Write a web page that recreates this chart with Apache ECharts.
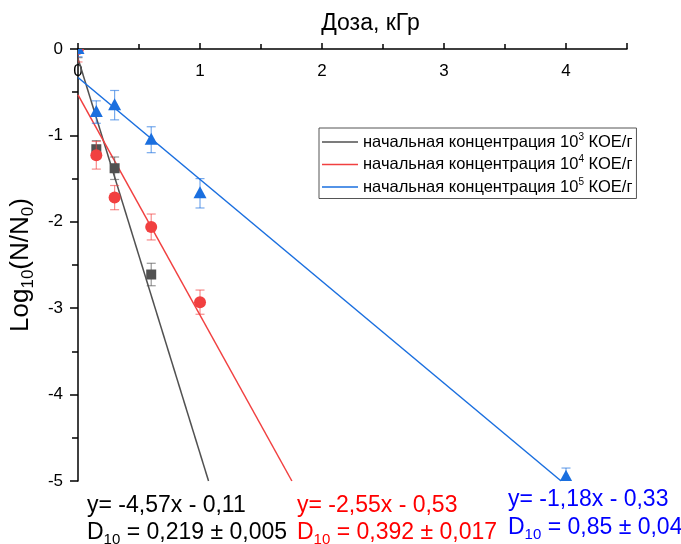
<!DOCTYPE html>
<html><head><meta charset="utf-8">
<script src="https://cdn.jsdelivr.net/npm/echarts@6/dist/echarts.min.js"></script>
<style>html,body{margin:0;padding:0;background:#fff}#c{width:681px;height:544px}</style>
</head><body><div id="c"></div>
<script>
const FONT = 'Liberation Sans, Arial, sans-serif';

// measured points (dose, kGy ; log10(N/N0) ; error)
const xBlack = [0, 0.15, 0.3, 0.6];
const yBlack = [0, -1.16, -1.38, -2.61];
const eBlack = [0.1, 0.1, 0.13, 0.13];

const xRed = [0, 0.15, 0.3, 0.6, 1];
const yRed = [0, -1.23, -1.72, -2.06, -2.93];
const eRed = [0.15, 0.16, 0.14, 0.15, 0.14];

const xBlue = [0, 0.15, 0.3, 0.6, 1, 4];
const yBlue = [0, -0.73, -0.65, -1.05, -1.67, -4.95];
const eBlue = [0.09, 0.13, 0.17, 0.15, 0.17, 0.1];

// fitted lines (endpoints)
const fitBlackX = [0, 1.07], fitBlackY = [-0.11, -5];
const fitRedX = [0, 1.753], fitRedY = [-0.53, -5];
const fitBlueX = [0, 3.96], fitBlueY = [-0.33, -5];

// texts
const legendKeys = ['c3', 'c4', 'c5'];
const legendExp = ['3', '4', '5'];
const eqTexts = ['y= -4,57x - 0,11', 'y= -2,55x - 0,53', 'y= -1,18x - 0,33'];
const dTexts = [' = 0,219 ± 0,005', ' = 0,392 ± 0,017', ' = 0,85 ± 0,04'];

const cBlack = '#515151', cRed = '#F14040', cBlue = '#1A6FDF';
const eCBlack = 'rgba(81,81,81,0.6)', eCRed = 'rgba(241,64,64,0.6)', eCBlue = 'rgba(26,111,223,0.6)';

function pts(xs, ys, es) { return xs.map((x, i) => [x, ys[i], es[i]]); }
function line(xs, ys) { return xs.map((x, i) => [x, ys[i]]); }

function markerSeries(data, color, errColor, shape) {
  return {
    type: 'custom', clip: true, z: 4,
    data: data, encode: { x: 0, y: 1 },
    renderItem: function (params, api) {
      const x = api.value(0), y = api.value(1), e = api.value(2);
      const c = api.coord([x, y]);
      const t = api.coord([x, y + e]);
      const b = api.coord([x, y - e]);
      const cw = 4.5;
      const es = { stroke: errColor, lineWidth: 1.2 };
      const ch = [
        { type: 'line', shape: { x1: c[0], y1: t[1], x2: c[0], y2: b[1] }, style: es },
        { type: 'line', shape: { x1: c[0] - cw, y1: t[1], x2: c[0] + cw, y2: t[1] }, style: es },
        { type: 'line', shape: { x1: c[0] - cw, y1: b[1], x2: c[0] + cw, y2: b[1] }, style: es }
      ];
      if (shape === 'square') {
        ch.push({ type: 'rect', shape: { x: c[0] - 5, y: c[1] - 5, width: 10, height: 10 }, style: { fill: color } });
      } else if (shape === 'circle') {
        ch.push({ type: 'circle', shape: { cx: c[0], cy: c[1], r: 6 }, style: { fill: color } });
      } else {
        ch.push({ type: 'polygon', shape: { points: [[c[0], c[1] - 7], [c[0] + 6.5, c[1] + 5], [c[0] - 6.5, c[1] + 5]] }, style: { fill: color } });
      }
      return { type: 'group', children: ch };
    }
  };
}

const chart = echarts.init(document.getElementById('c'));
const txt = (x, y, s, color) => ({
  type: 'text', left: x, top: y,
  style: { text: s, fill: color, font: '23px ' + FONT }
});
const dtxt = (x, y, s, color) => ({
  type: 'text', left: x, top: y,
  style: {
    text: '{d|D}{s|10}{d|' + s + '}', fill: color,
    rich: {
      d: { fontSize: 23, fontFamily: FONT, lineHeight: 30, fill: color },
      s: { fontSize: 15, fontFamily: FONT, lineHeight: 10, verticalAlign: 'bottom', fill: color }
    }
  }
});

chart.setOption({
  animation: false,
  backgroundColor: '#fff',
  grid: { left: 78, right: 54, top: 49, bottom: 63 },
  xAxis: {
    type: 'value', position: 'top', min: 0, max: 4.5, interval: 1,
    name: 'Доза, кГр', nameLocation: 'middle', nameGap: 14,
    nameTextStyle: { fontSize: 23, fontFamily: FONT, color: '#000', padding: [0, 0, 0, 36] },
    axisLine: { lineStyle: { color: '#000', width: 1.5 } },
    axisTick: { length: 6, lineStyle: { color: '#000', width: 1.5 } },
    minorTick: { show: true, splitNumber: 2, length: 5, lineStyle: { color: '#000', width: 1.5 } },
    axisLabel: { inside: true, margin: 14, fontSize: 17, fontFamily: FONT, color: '#000',
      formatter: v => (v % 1 === 0 ? String(v) : '') },
    splitLine: { show: false }
  },
  yAxis: {
    type: 'value', min: -5, max: 0, interval: 1,
    name: '{a|Log}{b|10}{a|(N/N}{b|0}{a|)}', nameLocation: 'middle', nameGap: 38,
    nameTextStyle: {
      rich: {
        a: { fontSize: 26, fontFamily: FONT, color: '#000', lineHeight: 32 },
        b: { fontSize: 17, fontFamily: FONT, color: '#000', lineHeight: 12, verticalAlign: 'bottom' }
      }
    },
    axisLine: { show: true, lineStyle: { color: '#000', width: 1.5 } },
    axisTick: { length: 8, lineStyle: { color: '#000', width: 1.5 } },
    minorTick: { show: true, splitNumber: 2, length: 6, lineStyle: { color: '#000', width: 1.5 } },
    axisLabel: { margin: 15, fontSize: 17, fontFamily: FONT, color: '#000' },
    splitLine: { show: false }
  },
  legend: {
    orient: 'vertical', left: 319, top: 128,
    data: legendKeys, icon: 'rect',
    borderColor: '#555', borderWidth: 1, borderRadius: 0,
    padding: [4, 4, 3, 3], itemGap: 4, itemWidth: 36, itemHeight: 1.5,
    formatter: name => {
      const i = legendKeys.indexOf(name);
      return '{n|начальная концентрация 10}{s|' + legendExp[i] + '}{n| КОЕ/г}';
    },
    textStyle: {
      rich: {
        n: { fontSize: 16.5, fontFamily: FONT, color: '#000', lineHeight: 20 },
        s: { fontSize: 10, fontFamily: FONT, color: '#000', lineHeight: 14, verticalAlign: 'top' }
      }
    }
  },
  series: [
    { name: 'c3', type: 'line', data: line(fitBlackX, fitBlackY), symbol: 'none', z: 2,
      lineStyle: { color: cBlack, width: 1.5 }, itemStyle: { color: cBlack } },
    { name: 'c4', type: 'line', data: line(fitRedX, fitRedY), symbol: 'none', z: 2,
      lineStyle: { color: cRed, width: 1.5 }, itemStyle: { color: cRed } },
    { name: 'c5', type: 'line', data: line(fitBlueX, fitBlueY), symbol: 'none', z: 2,
      lineStyle: { color: cBlue, width: 1.5 }, itemStyle: { color: cBlue } },
    markerSeries(pts(xBlack, yBlack, eBlack), cBlack, eCBlack, 'square'),
    markerSeries(pts(xRed, yRed, eRed), cRed, eCRed, 'circle'),
    markerSeries(pts(xBlue, yBlue, eBlue), cBlue, eCBlue, 'triangle')
  ],
  graphic: [
    txt(87, 494, eqTexts[0], '#000'),
    dtxt(87, 521, dTexts[0], '#000'),
    txt(297, 494, eqTexts[1], '#FF0000'),
    dtxt(297, 521, dTexts[1], '#FF0000'),
    txt(508, 488, eqTexts[2], '#0000FF'),
    dtxt(508, 516, dTexts[2], '#0000FF')
  ]
});
</script>
</body></html>
